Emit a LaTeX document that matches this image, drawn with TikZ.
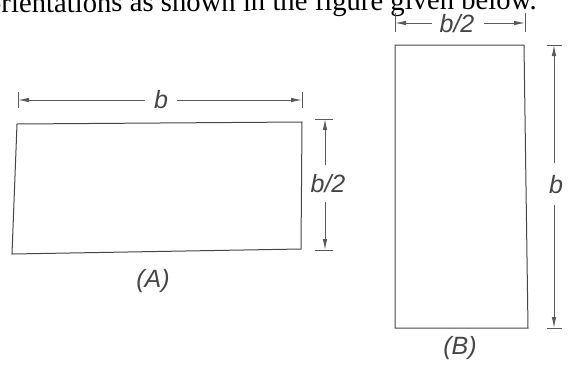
\documentclass[tikz,border=0pt]{standalone}
\usepackage{fontspec}
\setmainfont{Liberation Serif}
\setsansfont{Liberation Sans}
\usetikzlibrary{arrows.meta}
\definecolor{inkgray}{HTML}{454545}
\definecolor{dimgray}{HTML}{5A5A5A}
\tikzset{
  rectline/.style={draw=inkgray, line width=1pt, line join=miter},
  dimline/.style={draw=dimgray, line width=0.9pt, -{Latex[length=11pt,width=4.5pt]}},
  tickline/.style={draw=dimgray, line width=0.9pt},
  dimlabel/.style={inner sep=0pt, text=inkgray, font=\sffamily\itshape\fontsize{25}{30}\selectfont},
}
\begin{document}
\begin{tikzpicture}[x=1pt,y=-1pt]
\useasboundingbox (0,0) rectangle (571,365);
\clip (0,0) rectangle (571,365);
% top text line (cut by the picture's edge)
\node[anchor=base east, inner sep=0pt, rotate=0.4, font=\fontsize{28.7}{34}\selectfont] (toptext) at (537,9) {orientations as shown in the figure given below.};
% Rectangle A
\coordinate (A1) at (17,124);
\coordinate (A2) at (302,122);
\coordinate (A3) at (301,249);
\coordinate (A4) at (12,254);
\draw[rectline] (A1) -- (A2) -- (A3) -- (A4) -- cycle;
% dimension b above A
\coordinate (Atl) at (18,92);
\coordinate (Abl) at (18,108);
\coordinate (Atr) at (302,92);
\coordinate (Abr) at (302,108);
\coordinate (Al) at (18,100);
\coordinate (Ar) at (302,100);
\draw[tickline] (Atl) -- (Abl);
\draw[tickline] (Atr) -- (Abr);
\node[dimlabel] (bA) at (161,100) {b};
\draw[dimline] ([xshift=-16pt]bA.center) -- (Al);
\draw[dimline] ([xshift=16pt]bA.center) -- (Ar);
% dimension b/2 right of A
\coordinate (Rt1) at (315,119);
\coordinate (Rt2) at (333,119);
\coordinate (Rb1) at (315,250);
\coordinate (Rb2) at (333,250);
\coordinate (Rt) at (325,119);
\coordinate (Rb) at (325,250);
\draw[tickline] (Rt1) -- (Rt2);
\draw[tickline] (Rb1) -- (Rb2);
\node[dimlabel] (hA) at (328,184) {b/2};
\draw[dimline] ([xshift=-3pt,yshift=19pt]hA.center) -- (Rt);
\draw[dimline] ([xshift=-3pt,yshift=-18pt]hA.center) -- (Rb);
\node[dimlabel] (labA) at (153,281) {(A)};
% Rectangle B
\coordinate (B1) at (395,45);
\coordinate (B2) at (524,45);
\coordinate (B3) at (528,328);
\coordinate (B4) at (395,328);
\draw[rectline] (B1) -- (B2) -- (B3) -- (B4) -- cycle;
% dimension b/2 above B
\coordinate (Btl) at (395,13);
\coordinate (Bbl) at (395,32);
\coordinate (Btr) at (525,13);
\coordinate (Bbr) at (525,32);
\coordinate (Bl) at (395,23);
\coordinate (Br) at (525,23);
\draw[tickline] (Btl) -- (Bbl);
\draw[tickline] (Btr) -- (Bbr);
\node[dimlabel] (wB) at (457,24) {b/2};
\draw[dimline] ([xshift=-25pt,yshift=1pt]wB.center) -- (Bl);
\draw[dimline] ([xshift=27pt,yshift=1pt]wB.center) -- (Br);
% dimension b right of B
\coordinate (St1) at (547,45);
\coordinate (St2) at (562,45);
\coordinate (Sb1) at (547,328);
\coordinate (Sb2) at (562,328);
\coordinate (St) at (554,45);
\coordinate (Sb) at (554,328);
\draw[tickline] (St1) -- (St2);
\draw[tickline] (Sb1) -- (Sb2);
\node[dimlabel] (hB) at (556,185) {b};
\draw[dimline] ([xshift=-2pt,yshift=22pt]hB.center) -- (St);
\draw[dimline] ([xshift=-2pt,yshift=-20pt]hB.center) -- (Sb);
\node[dimlabel] (labB) at (460,348) {(B)};
\end{tikzpicture}
\end{document}
